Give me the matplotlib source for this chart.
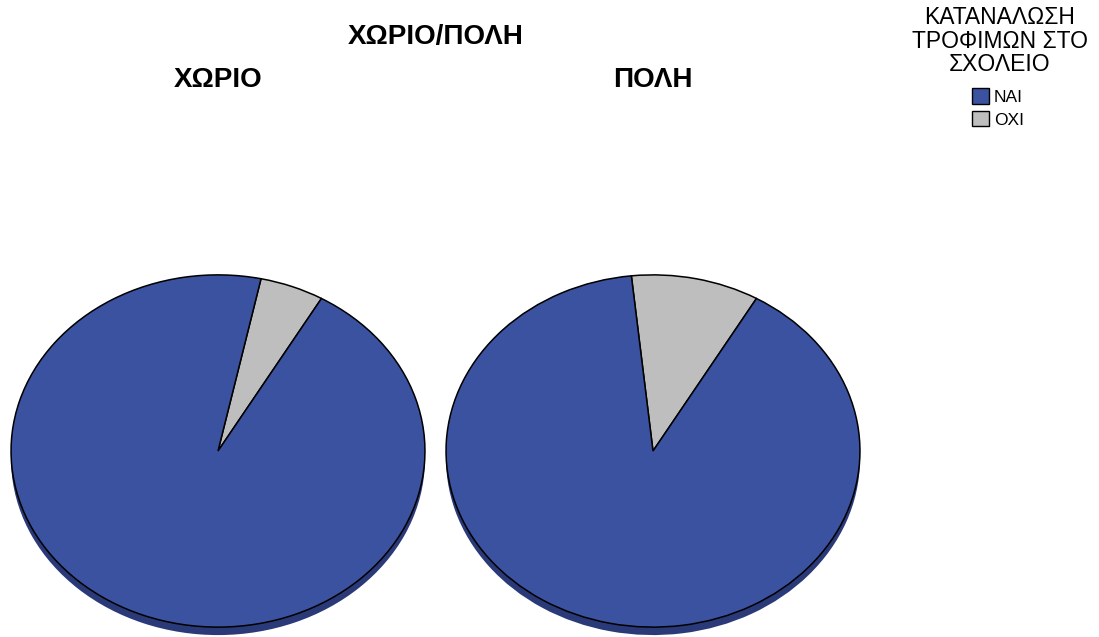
import matplotlib.pyplot as plt
from matplotlib.patches import Patch

plt.rcParams['font.family'] = ['Liberation Sans', 'DejaVu Sans']

# data
categories = ["ΝΑΙ", "ΟΧΙ"]
places = ["ΧΩΡΙΟ", "ΠΟΛΗ"]
oxi_pct = [5, 10]
nai_pct = [95, 90]

blue = "#3A52A0"
grey = "#BEBEBE"
dark_blue = "#2A3A78"
dark_grey = "#8E8E8E"

W, H = 1099, 637
fig = plt.figure(figsize=(W / 100, H / 100), dpi=100)

# pixel boxes for the two pies (left, top, width, height of top face)
boxes = [(10, 274, 416, 354), (445, 274, 416, 354)]
depth = 8 / 177.0

for i, place in enumerate(places):
    l, t, w, h = boxes[i]
    ax = fig.add_axes([l / W, (H - t - h) / H, w / W, h / H])
    vals = [oxi_pct[i], nai_pct[i]]
    # side / shadow of the 3d pie
    ax.pie(vals, colors=[dark_grey, dark_blue], startangle=60, counterclock=True,
           center=(0, -depth), radius=1, wedgeprops=dict(linewidth=0))
    ax.pie(vals, colors=[grey, blue], startangle=60, counterclock=True,
           radius=1, wedgeprops=dict(edgecolor="black", linewidth=1.1))
    ax.set_aspect('auto')
    ax.set_xlim(-1.005, 1.005)
    ax.set_ylim(-1.005, 1.005)
    for p in ax.patches:
        p.set_clip_on(False)
    fig.text((l + w / 2) / W, 1 - 80 / H, place, ha='center', va='center',
             fontsize=20, fontweight='bold')

fig.text(436 / W, 1 - 37 / H, "ΧΩΡΙΟ/ΠΟΛΗ", ha='center', va='center',
         fontsize=20, fontweight='bold')

# legend title
fig.text(1000 / W, 1 - 41 / H, "ΚΑΤΑΝΑΛΩΣΗ\nΤΡΟΦΙΜΩΝ ΣΤΟ\nΣΧΟΛΕΙΟ", ha='center',
         va='center', fontsize=16.5, linespacing=1.05)

handles = [Patch(facecolor=blue, edgecolor='black', linewidth=1.0),
           Patch(facecolor=grey, edgecolor='black', linewidth=1.0)]
leg = fig.legend(handles, categories, loc='upper left',
                 bbox_to_anchor=(972 / W, 1 - 88 / H),
                 frameon=False, fontsize=12.5,
                 handlelength=1.0, handleheight=1.0, handletextpad=0.25,
                 labelspacing=0.35, borderpad=0, borderaxespad=0)

fig.savefig("out.png", dpi=100)
